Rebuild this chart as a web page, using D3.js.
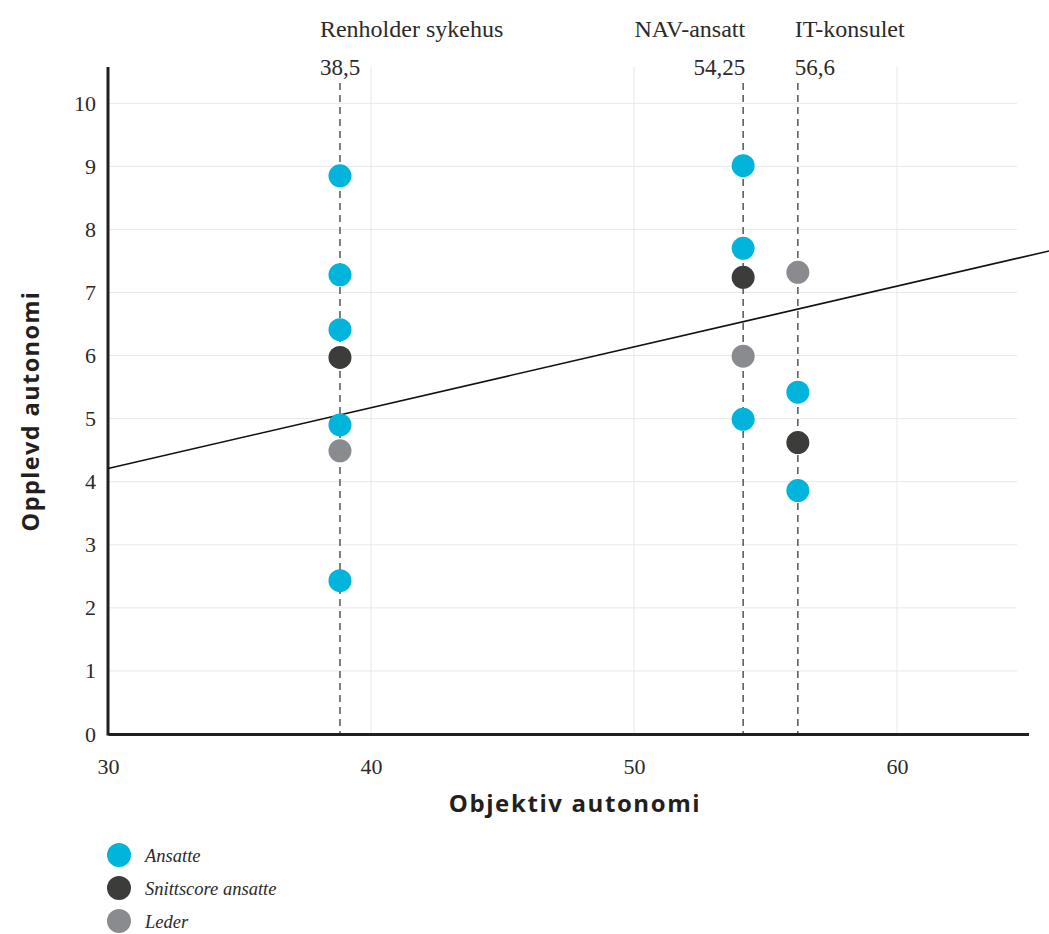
<!DOCTYPE html>
<html><head><meta charset="utf-8">
<script src="https://cdn.jsdelivr.net/npm/d3@7"></script>
<style>
html,body{margin:0;padding:0;background:#fff;}
svg{display:block;}
</style></head>
<body>
<svg id="chart" width="1049" height="934"></svg>
<script>
// ---- data ----
const groups = ["Renholder sykehus", "NAV-ansatt", "IT-konsulet"];
const groupLabels = ["38,5", "54,25", "56,6"];
const groupX = [38.82, 54.15, 56.23];
const ansatteGroup = [0, 0, 0, 0, 0, 1, 1, 1, 2, 2];
const ansatteY = [8.85, 7.28, 6.41, 4.90, 2.43, 9.01, 7.70, 4.99, 5.42, 3.86];
const snittY = [5.97, 7.24, 4.62];
const lederY = [4.49, 5.99, 7.32];
const trendX = [30, 65.8];
const trendY = [4.21, 7.66];
const xTicks = [30, 40, 50, 60];
const yTicks = [0, 1, 2, 3, 4, 5, 6, 7, 8, 9, 10];
const legendLabels = ["Ansatte", "Snittscore ansatte", "Leder"];
const colors = ["#00b4dc", "#3c3c3b", "#8a8b8e"];

// ---- drawing ----
const svg = d3.select("#chart");
const x = d3.scaleLinear().domain([30, 65]).range([108, 1028.5]);
const y = d3.scaleLinear().domain([0, 10]).range([734, 103.3]);
const serif = "'Liberation Serif', 'DejaVu Serif', serif";
const sans = "'Open Sans', 'Noto Sans', sans-serif";

// gridlines
svg.append("g").selectAll("line").data(yTicks.filter(d => d > 0)).join("line")
  .attr("x1", x(30)).attr("x2", 1017)
  .attr("y1", d => y(d)).attr("y2", d => y(d))
  .attr("stroke", "#e8e8e8").attr("stroke-width", 1);
svg.append("g").selectAll("line").data(xTicks.filter(d => d > 30)).join("line")
  .attr("x1", d => x(d)).attr("x2", d => x(d))
  .attr("y1", 67).attr("y2", y(0))
  .attr("stroke", "#e8e8e8").attr("stroke-width", 1);

// dashed group lines
svg.append("g").selectAll("line").data(groupX).join("line")
  .attr("x1", d => x(d)).attr("x2", d => x(d))
  .attr("y1", 83).attr("y2", y(0))
  .attr("stroke", "#555").attr("stroke-width", 1.5)
  .attr("stroke-dasharray", "7,5");

// group annotations
const anchors = ["start", "end", "start"];
const offsets = [-20, 2, -3];
groups.forEach((g, i) => {
  svg.append("text").attr("x", x(groupX[i]) + offsets[i]).attr("y", 37)
    .attr("text-anchor", anchors[i]).attr("font-family", serif)
    .attr("font-size", 24).attr("fill", "#2b2b2b").text(g);
  svg.append("text").attr("x", x(groupX[i]) + offsets[i]).attr("y", 75)
    .attr("text-anchor", anchors[i]).attr("font-family", serif)
    .attr("font-size", 23).attr("fill", "#2b2b2b").text(groupLabels[i]);
});

// axes
const xAxis = d3.axisBottom(x).tickValues(xTicks).tickSize(0).tickPadding(24).tickFormat(d3.format("d"));
const gx = svg.append("g").attr("transform", `translate(0,${y(0)})`).call(xAxis);
gx.select(".domain").attr("stroke", "#231f20").attr("stroke-width", 3);
gx.selectAll("text").attr("font-family", serif).attr("font-size", 22).attr("fill", "#2b2b2b");

const yAxis = d3.axisLeft(y).tickValues(yTicks).tickSize(0).tickPadding(12).tickFormat(d3.format("d"));
const gy = svg.append("g").attr("transform", `translate(${x(30)},0)`).call(yAxis);
gy.select(".domain").remove();
gy.selectAll("text").attr("font-family", serif).attr("font-size", 22).attr("fill", "#2b2b2b");
svg.append("line").attr("x1", x(30)).attr("x2", x(30)).attr("y1", 67).attr("y2", y(0) + 1.5)
  .attr("stroke", "#231f20").attr("stroke-width", 3);

// trend line
svg.append("line")
  .attr("x1", x(trendX[0])).attr("y1", y(trendY[0]))
  .attr("x2", x(trendX[1])).attr("y2", y(trendY[1]))
  .attr("stroke", "#111").attr("stroke-width", 1.6);

// points
const r = 11.5;
svg.append("g").selectAll("circle").data(ansatteY).join("circle")
  .attr("cx", (d, i) => x(groupX[ansatteGroup[i]])).attr("cy", d => y(d))
  .attr("r", r).attr("fill", colors[0]);
svg.append("g").selectAll("circle").data(snittY).join("circle")
  .attr("cx", (d, i) => x(groupX[i])).attr("cy", d => y(d))
  .attr("r", r).attr("fill", colors[1]);
svg.append("g").selectAll("circle").data(lederY).join("circle")
  .attr("cx", (d, i) => x(groupX[i])).attr("cy", d => y(d))
  .attr("r", r).attr("fill", colors[2]);

// axis titles
svg.append("text").attr("x", 575).attr("y", 812).attr("text-anchor", "middle")
  .attr("font-family", sans).attr("font-weight", 700).attr("font-size", 24)
  .attr("letter-spacing", 1.6).attr("fill", "#231f20").text("Objektiv autonomi");
svg.append("text").attr("transform", "translate(39,411) rotate(-90)").attr("text-anchor", "middle")
  .attr("font-family", sans).attr("font-weight", 700).attr("font-size", 23.5)
  .attr("letter-spacing", 1.4).attr("fill", "#231f20").text("Opplevd autonomi");

// legend
const lg = svg.append("g").selectAll("g").data(legendLabels).join("g")
  .attr("transform", (d, i) => `translate(119,${855 + i * 33})`);
lg.append("circle").attr("r", 12).attr("fill", (d, i) => colors[i]);
lg.append("text").attr("x", 26).attr("y", 7).attr("font-family", serif)
  .attr("font-style", "italic").attr("font-size", 18.5).attr("fill", "#2b2b2b").text(d => d);
</script>
</body></html>
